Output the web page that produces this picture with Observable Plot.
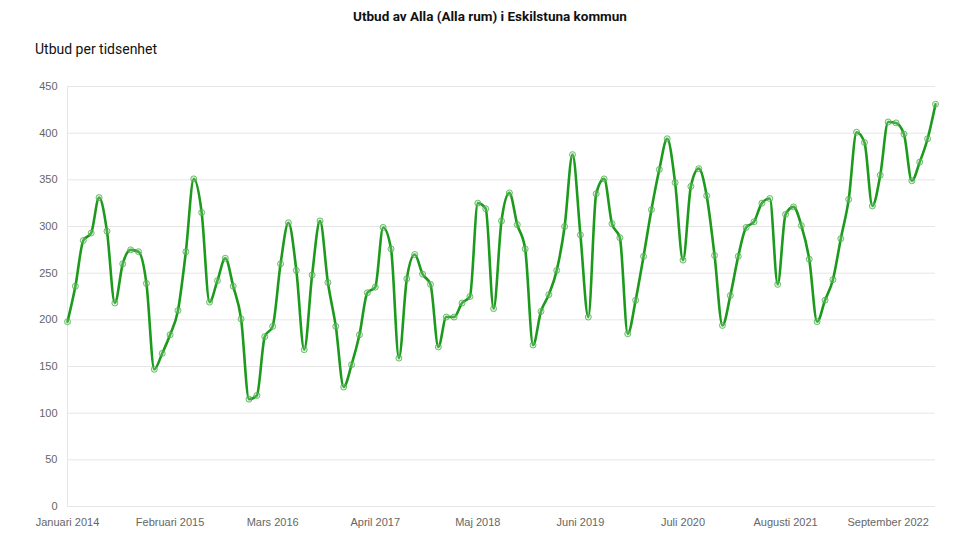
<!DOCTYPE html>
<html><head><meta charset="utf-8">
<script src="https://cdn.jsdelivr.net/npm/d3@7"></script>
<script src="https://cdn.jsdelivr.net/npm/@observablehq/plot@0.6"></script>
<style>
body{margin:0;background:#fff;}
#wrap{position:relative;width:980px;height:551px;}
#wrap svg{position:absolute;left:0;top:0;}
#title{position:absolute;top:8px;left:0;width:980px;text-align:center;font:700 13.5px Roboto, sans-serif;color:#111;}
#sub{position:absolute;top:41px;left:35px;font:400 14px Roboto, sans-serif;color:#111;}
</style></head><body>
<div id="wrap"><div id="title">Utbud av Alla (Alla rum) i Eskilstuna kommun</div><div id="sub">Utbud per tidsenhet</div></div>
<script>
const monthNames = ["Januari","Februari","Mars","April","Maj","Juni","Juli","Augusti","September","Oktober","November","December"];
const startYear = 2014;
const values = [
  198,236,285,293,331,295,218,260,275,273,239,147,
  164,184,210,273,351,315,219,242,266,236,201,115,
  119,182,193,260,304,253,168,248,306,240,193,128,
  152,184,229,235,299,276,159,244,270,249,238,171,
  203,203,218,225,325,319,212,306,336,302,276,173,
  209,227,253,300,377,291,203,335,351,303,288,185,
  221,268,318,361,394,347,264,343,362,333,269,194,
  226,268,299,305,325,330,238,313,321,301,265,198,
  221,243,287,329,401,390,322,355,412,411,399,349,
  369,394,431
];
const yTicks = [0,50,100,150,200,250,300,350,400,450];
const labels = values.map((_, i) => monthNames[i % 12] + " " + (startYear + Math.floor(i / 12)));
const xTickLabels = labels.filter((_, i) => i % 13 === 0);
const data = values.map((v, i) => ({month: labels[i], value: v}));

const chart = Plot.plot({
  width: 980, height: 551,
  marginLeft: 67, marginRight: 45, marginTop: 86, marginBottom: 45,
  style: {fontFamily: "'Liberation Sans', Arial, sans-serif", background: "transparent"},
  x: {type: "point", domain: labels, padding: 0},
  y: {domain: [0, 450]},
  marks: [
    Plot.gridY(yTicks, {stroke: "#e6e6e6", strokeOpacity: 1}),
    Plot.ruleX([labels[0]], {y1: 0, y2: 450, stroke: "#e6e6e6"}),
    Plot.axisY(yTicks, {tickSize: 0, tickPadding: 10, fontSize: 11, fill: "#666", label: null}),
    Plot.axisX(xTickLabels, {tickSize: 0, tickPadding: 12, fontSize: 11, fill: "#666", label: null}),
    Plot.line(data, {x: "month", y: "value", stroke: "#1c9a1c", strokeWidth: 2.6, curve: "monotone-x"}),
    Plot.dot(data, {x: "month", y: "value", r: 3, stroke: "#4caf4c", strokeOpacity: 0.8, strokeWidth: 1, fill: "#9ad89a", fillOpacity: 0.3})
  ]
});
document.getElementById("wrap").prepend(chart);
</script>
</body></html>
